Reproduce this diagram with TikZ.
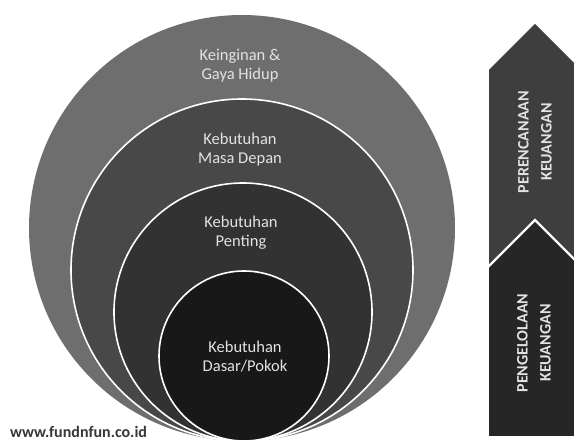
\documentclass[tikz,border=0pt]{standalone}
\usepackage{fontspec}
\setmainfont{Carlito}
\usetikzlibrary{positioning}

\definecolor{ringA}{RGB}{110,110,110}
\definecolor{ringB}{RGB}{72,72,72}
\definecolor{ringC}{RGB}{50,50,50}
\definecolor{ringD}{RGB}{24,24,24}
\definecolor{bandA}{RGB}{62,62,62}
\definecolor{bandB}{RGB}{38,38,38}
\definecolor{textgray}{RGB}{226,226,226}
\definecolor{markgray}{RGB}{55,55,55}

\begin{document}
\begin{tikzpicture}[
            x=1pt, y=-1pt,
            ring/.style={
                circle,
                draw=white,
                line width=1.6pt,
                inner sep=0pt
            },
            txt/.style={
                text=textgray,
                align=center,
                font=\fontsize{16.5}{19}\selectfont
            },
            band/.style={
                text=textgray,
                align=center,
                rotate=90,
                font=\bfseries\fontsize{16}{23}\selectfont
            }
        ]
        \clip (0,0) rectangle (574,443);
        \fill[white] (0,0) rectangle (574,443);

        % nested circles
        \node[ring, draw=none, fill=ringA, minimum size=426pt] (wish) at (242,228) {};
        \node[ring, fill=ringB, minimum size=342pt] (future) at (242,270) {};
        \node[ring, fill=ringC, minimum size=258pt] (need) at (243,312) {};
        \node[ring, fill=ringD, minimum size=170pt] (basic) at (244,356) {};

        \node[txt] (wishlbl) at (240,66) {Keinginan \&\\Gaya Hidup};
        \node[txt] (futurelbl) at (240,150) {Kebutuhan\\Masa Depan};
        \node[txt] (needlbl) at (241,233) {Kebutuhan\\Penting};
        \node[txt] (basiclbl) at (245,357) {Kebutuhan\\Dasar/Pokok};

        % arrows on the right
        \fill[bandA] (489,70) -- (535,24) -- (581,70) -- (581,272) -- (535,226) -- (489,272) -- cycle;
        \fill[bandB] (489,266) -- (535,220) -- (581,266) -- (581,436) -- (489,436) -- cycle;
        \draw[white, line width=2.2pt] (488,267) -- (535,220) -- (582,267);

        \node[band] (plan) at (535,142) {PERENCANAAN\\KEUANGAN};
        \node[band] (manage) at (534,343) {PENGELOLAAN\\KEUANGAN};

        \node[anchor=base west, inner sep=0pt, text=markgray,
            font=\bfseries\fontsize{16}{19}\selectfont] (site) at (10,438) {www.fundnfun.co.id};
        \end{tikzpicture}
\end{document}
